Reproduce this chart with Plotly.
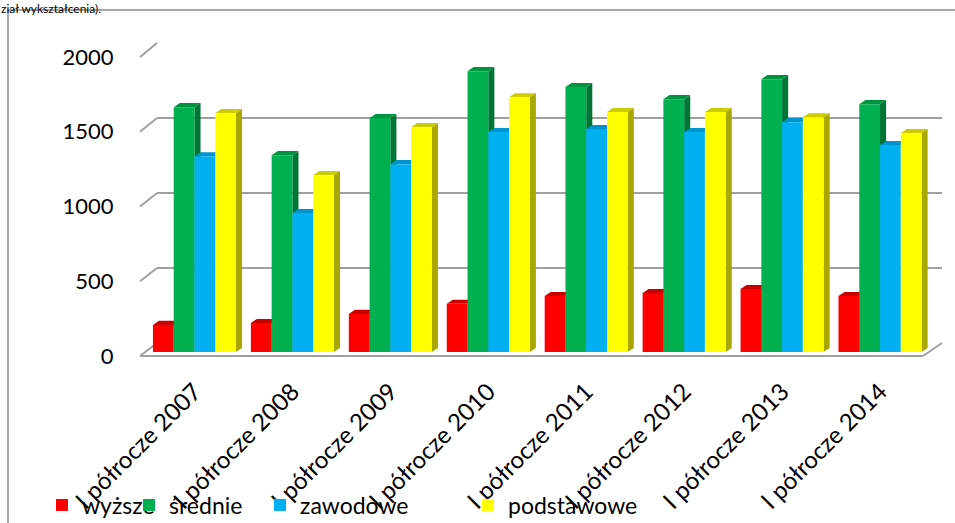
import plotly.graph_objects as go

# ---- data ----
categories = ["I półrocze 2007", "I półrocze 2008", "I półrocze 2009", "I półrocze 2010",
              "I półrocze 2011", "I półrocze 2012", "I półrocze 2013", "I półrocze 2014"]
wyzsze = [180, 193, 253, 320, 372, 392, 418, 372]
srednie = [1627, 1308, 1554, 1866, 1760, 1680, 1813, 1647]
zawodowe = [1301, 923, 1248, 1461, 1481, 1461, 1527, 1375]
podstawowe = [1587, 1175, 1494, 1693, 1594, 1594, 1560, 1454]
series_names = ["wyższe", "średnie", "zawodowe", "podstawowe"]
y_ticks = [0, 500, 1000, 1500, 2000]
caption = "ział wykształcenia)."

W, H = 955, 523
FONT = "Lato"


def fx(px):
    return px / W


def fy(py):
    return 1 - py / H


series = [wyzsze, srednie, zawodowe, podstawowe]
front_cols = ["#ff0000", "#00b050", "#00b0f0", "#ffff00"]
top_cols = ["#c80000", "#009440", "#0094cc", "#cccc00"]
side_cols = ["#b00000", "#007535", "#0086b8", "#a8a800"]

bar_w = 0.212
first_off = -0.424
dx = 0.062
dy = 27
xs = list(range(len(categories)))

fig = go.Figure()

fig.add_trace(go.Scatter(x=[], y=[], xaxis="x", yaxis="y", showlegend=False, hoverinfo="skip"))
legends = ["legend", "legend2", "legend3", "legend4"]
for k, (name, vals) in enumerate(zip(series_names, series)):
    fig.add_trace(go.Bar(
        x=xs, y=vals, name=name, xaxis="x2", yaxis="y2",
        width=bar_w, offset=first_off + k * bar_w,
        marker=dict(color=front_cols[k], line=dict(width=0)),
        legend=legends[k],
    ))
fig.add_trace(go.Scatter(x=[], y=[], xaxis="x3", yaxis="y3", showlegend=False, hoverinfo="skip"))

shapes = []
for i in xs:
    for k, vals in enumerate(series):
        v = vals[i]
        xl = i + first_off + k * bar_w
        xr = xl + bar_w
        shapes.append(dict(type="path", xref="x2", yref="y2", layer="between",
                           path=f"M{xl},{v} L{xl+dx},{v+dy} L{xr+dx},{v+dy} L{xr},{v} Z",
                           fillcolor=top_cols[k], line=dict(width=0)))
        shapes.append(dict(type="path", xref="x2", yref="y2", layer="between",
                           path=f"M{xr},0 L{xr+dx},{dy} L{xr+dx},{v+dy} L{xr},{v} Z",
                           fillcolor=side_cols[k], line=dict(width=0)))


def front_y(v):
    return 356 - v * 299 / 2000


def back_y(v):
    return 343 - v * 300 / 2000


grid_col = "#a0a0a0"
for v in y_ticks:
    shapes.append(dict(type="line", xref="paper", yref="paper", layer="below",
                       x0=fx(140), y0=fy(front_y(v)), x1=fx(157), y1=fy(back_y(v)),
                       line=dict(color=grid_col, width=2)))
shapes.append(dict(type="line", xref="paper", yref="paper", layer="below",
                   x0=fx(140), y0=fy(front_y(0)), x1=fx(923), y1=fy(front_y(0)),
                   line=dict(color=grid_col, width=2)))
shapes.append(dict(type="line", xref="paper", yref="paper", layer="below",
                   x0=fx(923), y0=fy(front_y(0)), x1=fx(942), y1=fy(back_y(0)),
                   line=dict(color=grid_col, width=2)))
shapes.append(dict(type="rect", xref="paper", yref="paper", layer="below",
                   x0=fx(8), y0=fy(10), x1=fx(970), y1=fy(540),
                   line=dict(color="#8c8c8c", width=1.5), fillcolor="rgba(0,0,0,0)"))

legend_x = [42, 129, 260, 468]
legend_cfg = {}
for k, name in enumerate(legends):
    legend_cfg[name] = dict(
        x=fx(legend_x[k]), y=fy(505), xanchor="left", yanchor="middle",
        orientation="h", bgcolor="rgba(0,0,0,0)", borderwidth=0,
        font=dict(family=FONT, size=23, color="#000000"),
        itemclick=False, itemdoubleclick=False,
    )

fig.update_layout(
    width=W, height=H,
    margin=dict(l=0, r=0, t=0, b=0, autoexpand=False),
    paper_bgcolor="white", plot_bgcolor="rgba(0,0,0,0)",
    showlegend=True,
    barmode="overlay",
    shapes=shapes,
    font=dict(family=FONT, size=22, color="#000000"),
    xaxis=dict(domain=[fx(157), fx(942)], range=[0, 1], visible=False, fixedrange=True,
               automargin=False),
    yaxis=dict(domain=[fy(343), fy(43)], range=[0, 2000], tickvals=y_ticks,
               showgrid=True, gridcolor=grid_col, gridwidth=2, showticklabels=False,
               zeroline=False, showline=False, ticks="", fixedrange=True, automargin=False),
    xaxis2=dict(domain=[fx(145.5), fx(929)], range=[-0.5, 7.5], anchor="y2",
                tickvals=xs, ticktext=categories, tickangle=-45,
                ticks="outside", ticklen=15, tickcolor="rgba(0,0,0,0)",
                tickfont=dict(family=FONT, size=24, color="#000000"),
                showgrid=False, zeroline=False, showline=False, fixedrange=True,
                automargin=False),
    yaxis2=dict(domain=[fy(352), fy(51)], range=[0, 2000], anchor="x2",
                visible=False, fixedrange=True, automargin=False),
    xaxis3=dict(domain=[fx(140), fx(150)], range=[0, 1], anchor="y3", visible=False,
                fixedrange=True, automargin=False),
    yaxis3=dict(domain=[fy(356), fy(57)], range=[0, 2000], anchor="x3",
                tickvals=y_ticks, ticktext=[str(t) for t in y_ticks],
                ticks="outside", ticklen=21, tickcolor="rgba(0,0,0,0)",
                tickfont=dict(family=FONT, size=22, color="#000000"),
                showgrid=False, zeroline=False, showline=False, fixedrange=True,
                automargin=False),
    annotations=[dict(text=caption, xref="paper", yref="paper", x=fx(0), y=fy(0),
                      xanchor="left", yanchor="top", showarrow=False, borderpad=0,
                      font=dict(family=FONT, size=12, color="#000000"))],
    **legend_cfg,
)

fig.write_html("out.html", config={"displayModeBar": False},
               post_script="document.body.style.margin='0';document.body.style.padding='0';")
